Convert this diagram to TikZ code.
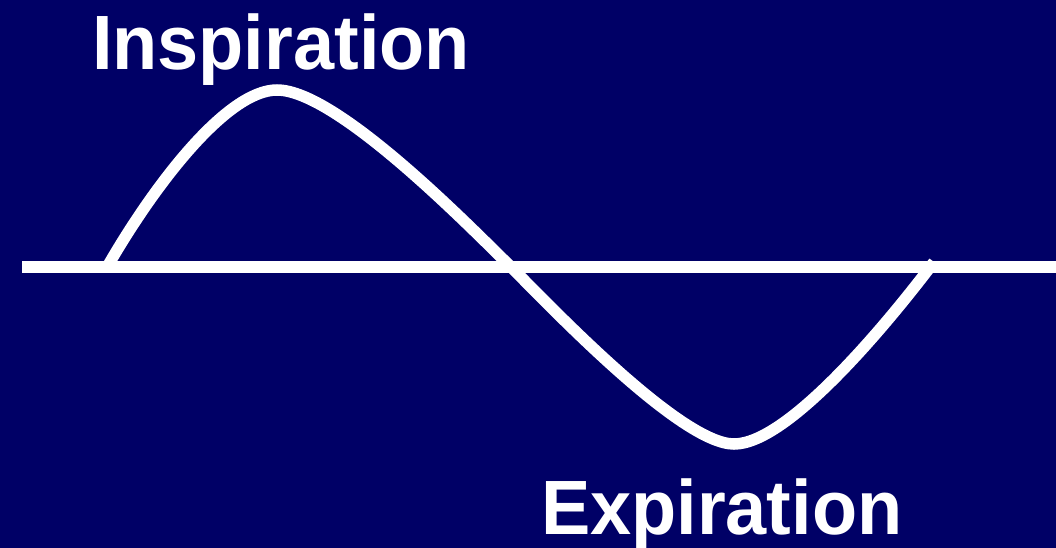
\documentclass[tikz,border=0pt]{standalone}
\usepackage{fontspec}
\setmainfont{Liberation Sans}
\definecolor{navy}{RGB}{0,0,102}
\begin{document}
\begin{tikzpicture}[x=1pt,y=-1pt,
  wave/.style={draw=white,line width=11.5pt},
  label/.style={text=white,inner sep=0pt,outer sep=0pt,anchor=base west,xscale=0.96,
    font=\fontsize{77}{77}\selectfont\bfseries}]
\fill[navy] (0,0) rectangle (1056,548);
\useasboundingbox (0,0) rectangle (1056,548);
\coordinate (axL) at (22,267);
\coordinate (axR) at (1056,267);
\coordinate (s) at (106,269);
\coordinate (pk) at (277,90);
\coordinate (c) at (511,267);
\coordinate (tr) at (734,444);
\coordinate (e) at (934,262);
\draw[wave] (s) .. controls (154,185) and (227,90) .. (pk)
  .. controls (337,90) and (471,228) .. (c)
  .. controls (551,307) and (681,444) .. (tr)
  .. controls (787,444) and (884,328) .. (e);
\draw[wave] (axL) -- (axR);
\node[label] (insp) at (92,70) {Inspiration};
\node[label] (exp) at (541,534) {Expiration};
\end{tikzpicture}
\end{document}
